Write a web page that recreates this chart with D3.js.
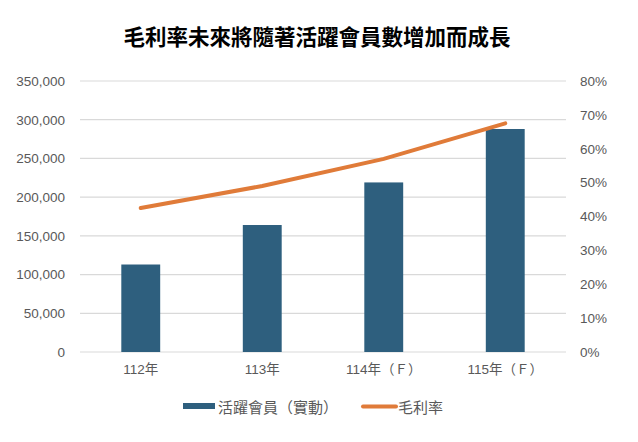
<!DOCTYPE html>
<html>
<head>
<meta charset="utf-8">
<script src="https://cdn.jsdelivr.net/npm/d3@7"></script>
<style>
  html, body { margin: 0; padding: 0; background: #fff; }
  svg { display: block; }
</style>
</head>
<body>
<svg id="chart" width="638" height="442"></svg>
<script>
const titleText = "毛利率未來將隨著活躍會員數增加而成長";
const categories = ["112年", "113年", "114年（Ｆ）", "115年（Ｆ）"];
const members = [113000, 164000, 219000, 288000];
const margin = [0.425, 0.49, 0.57, 0.675];
const leftTicks = [0, 50000, 100000, 150000, 200000, 250000, 300000, 350000];
const rightTicks = [0, 0.1, 0.2, 0.3, 0.4, 0.5, 0.6, 0.7, 0.8];
const seriesNames = ["活躍會員（實動）", "毛利率"];

const svg = d3.select("#chart");
const W = 638, H = 442;
const plot = { left: 80, right: 566, top: 81, bottom: 352 };
const font = "'Liberation Sans', 'Noto Sans CJK TC', sans-serif";
const cjk = "'Noto Sans CJK TC', sans-serif";
const barColor = "#2E5F7E", lineColor = "#E07B39", textColor = "#595959";

svg.append("rect").attr("width", W).attr("height", H).attr("fill", "#fff");

svg.append("text")
  .attr("x", 317).attr("y", 35)
  .attr("text-anchor", "middle").attr("dominant-baseline", "central")
  .attr("font-family", cjk).attr("font-weight", "bold").attr("font-size", 21.5)
  .attr("fill", "#000").text(titleText);

const x = d3.scaleBand().domain(categories).range([plot.left, plot.right]).paddingInner(0.68).paddingOuter(0.34);
const yL = d3.scaleLinear().domain([0, 350000]).range([plot.bottom, plot.top]);
const yR = d3.scaleLinear().domain([0, 0.8]).range([plot.bottom, plot.top]);

// gridlines
svg.append("g").selectAll("line").data(leftTicks).join("line")
  .attr("x1", plot.left).attr("x2", plot.right)
  .attr("y1", d => yL(d)).attr("y2", d => yL(d))
  .attr("stroke", "#d9d9d9").attr("stroke-width", 1.2);

// left axis
const axL = svg.append("g").attr("transform", `translate(${plot.left - 15},0)`)
  .call(d3.axisLeft(yL).tickValues(leftTicks).tickSize(0).tickPadding(0).tickFormat(d3.format(",")));
axL.select(".domain").remove();
axL.selectAll("text").attr("font-family", font).attr("font-size", 13.5).attr("fill", textColor);

// right axis
const axR = svg.append("g").attr("transform", `translate(${plot.right + 14},0)`)
  .call(d3.axisRight(yR).tickValues(rightTicks).tickSize(0).tickPadding(0).tickFormat(d3.format(".0%")));
axR.select(".domain").remove();
axR.selectAll("text").attr("font-family", font).attr("font-size", 13.5).attr("fill", textColor);

// x axis
const axX = svg.append("g").attr("transform", `translate(0,${plot.bottom + 12})`)
  .call(d3.axisBottom(x).tickSize(0).tickPadding(0));
axX.select(".domain").remove();
axX.selectAll("text").attr("font-family", font).attr("font-size", 13.5).attr("fill", textColor).attr("dy", "0.71em");

// bars
svg.append("g").selectAll("rect").data(members).join("rect")
  .attr("x", (d, i) => x(categories[i]))
  .attr("width", x.bandwidth())
  .attr("y", d => yL(d))
  .attr("height", d => yL(0) - yL(d))
  .attr("fill", barColor);

// line
const line = d3.line().x((d, i) => x(categories[i]) + x.bandwidth() / 2).y(d => yR(d));
svg.append("path").datum(margin)
  .attr("d", line).attr("fill", "none")
  .attr("stroke", lineColor).attr("stroke-width", 4).attr("stroke-linecap", "round");

// legend
const lg = svg.append("g");
lg.append("rect").attr("x", 183).attr("y", 403).attr("width", 32).attr("height", 6).attr("fill", barColor);
lg.append("text").attr("x", 218).attr("y", 406.5).attr("dominant-baseline", "central")
  .attr("font-family", cjk).attr("font-size", 15).attr("fill", textColor).text(seriesNames[0]);
lg.append("line").attr("x1", 363).attr("x2", 396).attr("y1", 406.5).attr("y2", 406.5)
  .attr("stroke", lineColor).attr("stroke-width", 4).attr("stroke-linecap", "round");
lg.append("text").attr("x", 398).attr("y", 406.5).attr("dominant-baseline", "central")
  .attr("font-family", cjk).attr("font-size", 15).attr("fill", textColor).text(seriesNames[1]);
</script>
</body>
</html>
